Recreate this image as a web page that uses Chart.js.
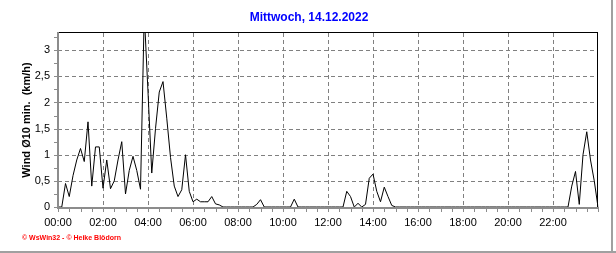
<!DOCTYPE html>
<html lang="de">
<head>
<meta charset="UTF-8">
<title>Wind Ø10 min.</title>
<script src="https://cdn.jsdelivr.net/npm/chart.js"></script>
<style>
  body { margin: 0; background: #fff; }
  #wrap { width: 616px; height: 253px; }
</style>
</head>
<body>
<div id="wrap"><canvas id="windChart" width="616" height="253"></canvas></div>
<script>
var titleText = 'Mittwoch, 14.12.2022';
var axisTitle = 'Wind Ø10 min.  (km/h)';
var creditText = '© WsWin32 - © Heike Blödorn';

// one value every 10 minutes, 00:00 .. 24:00
var windValues = [
  0, 0, 0.45, 0.2, 0.6, 0.9,            // 00
  1.12, 0.87, 1.63, 0.4, 1.15, 1.15,    // 01
  0.36, 0.9, 0.35, 0.5, 0.9, 1.25,      // 02
  0.25, 0.7, 0.97, 0.7, 0.34, 3.7,      // 03
  2.2, 0.65, 1.5, 2.2, 2.4, 1.7,        // 04
  0.95, 0.4, 0.2, 0.33, 1.0, 0.3,       // 05
  0.1, 0.15, 0.1, 0.1, 0.1, 0.2,        // 06
  0.06, 0.04, 0, 0, 0, 0,               // 07
  0, 0, 0, 0, 0, 0.05,                  // 08
  0.14, 0, 0, 0, 0, 0,                  // 09
  0, 0, 0, 0.15, 0, 0,                  // 10
  0, 0, 0, 0, 0, 0,                     // 11
  0, 0, 0, 0, 0, 0.3,                   // 12
  0.2, 0, 0.07, 0, 0.05, 0.55,          // 13
  0.63, 0.3, 0.1, 0.38, 0.2, 0.03,      // 14
  0, 0, 0, 0, 0, 0,                     // 15
  0, 0, 0, 0, 0, 0,                     // 16
  0, 0, 0, 0, 0, 0,                     // 17
  0, 0, 0, 0, 0, 0,                     // 18
  0, 0, 0, 0, 0, 0,                     // 19
  0, 0, 0, 0, 0, 0,                     // 20
  0, 0, 0, 0, 0, 0,                     // 21
  0, 0, 0, 0, 0, 0.4,                   // 22
  0.68, 0.05, 1.0, 1.44, 0.9, 0.5,      // 23
  0                                     // 24
];

var timeLabels = [];
for (var h = 0; h <= 24; h++) {
  for (var m = 0; m < 60; m += 10) {
    if (h === 24 && m > 0) break;
    timeLabels.push((h < 10 ? '0' : '') + h + ':' + (m < 10 ? '0' : '') + m);
  }
}

var yMax = 3.33;
var yGrid = [0.5, 1, 1.5, 2, 2.5, 3];
var labelEvery = 12;   // 2 hours
var minorEvery = 3;    // 30 minutes

Chart.defaults.font.family = "'Liberation Sans', Arial, sans-serif";
Chart.defaults.font.size = 11;
Chart.defaults.color = '#000';

var framePlugin = {
  id: 'framePlugin',
  beforeDatasetsDraw: function (chart) {
    var ctx = chart.ctx, a = chart.chartArea, x = chart.scales.x, y = chart.scales.y;
    ctx.save();
    ctx.strokeStyle = '#808080';
    ctx.lineWidth = 1;
    ctx.setLineDash([4, 3]);
    ctx.beginPath();
    for (var i = labelEvery; i < timeLabels.length - 1; i += labelEvery) {
      var px = Math.round(x.getPixelForValue(i)) + 0.5;
      ctx.moveTo(px, a.top);
      ctx.lineTo(px, a.bottom);
    }
    yGrid.forEach(function (v) {
      var py = Math.round(y.getPixelForValue(v)) + 0.5;
      ctx.moveTo(a.left, py);
      ctx.lineTo(a.right, py);
    });
    ctx.stroke();
    ctx.restore();
  },
  afterDatasetsDraw: function (chart) {
    var ctx = chart.ctx, a = chart.chartArea, x = chart.scales.x, y = chart.scales.y;
    ctx.save();
    // black top and right border
    ctx.fillStyle = '#000';
    ctx.fillRect(a.left, a.top - 1, a.right - a.left, 1);
    ctx.fillRect(a.right - 1, a.top - 1, 1, a.bottom - a.top + 1);
    // grey axes
    ctx.fillStyle = '#8c8c8c';
    ctx.fillRect(a.left - 1, a.top - 1, 2, a.bottom - a.top + 3);
    ctx.fillRect(a.left - 1, a.bottom, a.right - a.left + 1, 2);
    // minor ticks
    for (var i = 0; i < timeLabels.length; i += minorEvery) {
      var px = Math.round(x.getPixelForValue(i));
      ctx.fillRect(px, a.bottom, 1, 5);
    }
    for (var v = 0; v <= yMax; v += 0.25) {
      var py = Math.round(y.getPixelForValue(v));
      ctx.fillRect(a.left - 4, py, 4, 1);
    }
    ctx.restore();
  },
  afterDraw: function (chart) {
    var ctx = chart.ctx, a = chart.chartArea;
    ctx.save();
    ctx.fillStyle = '#0000ff';
    ctx.font = "bold 12px 'Liberation Sans Narrow', 'Liberation Sans', Arial, sans-serif";
    ctx.textAlign = 'center';
    ctx.textBaseline = 'middle';
    ctx.fillText(titleText, 309, 18);

    ctx.fillStyle = '#000';
    ctx.font = "bold 11px 'Liberation Sans', Arial, sans-serif";
    ctx.translate(27, (a.top + a.bottom) / 2);
    ctx.rotate(-Math.PI / 2);
    ctx.fillText(axisTitle, 0, 0);
    ctx.setTransform(1, 0, 0, 1, 0, 0);

    ctx.fillStyle = '#ff0000';
    ctx.font = "bold 7px 'Liberation Sans', Arial, sans-serif";
    ctx.textAlign = 'left';
    ctx.fillText(creditText, 22, 238);

    // window frame
    ctx.fillStyle = '#a0a0a0';
    ctx.fillRect(611, 0, 2, 253);
    ctx.fillRect(0, 251, 616, 2);
    ctx.restore();
  }
};

var ctx = document.getElementById('windChart').getContext('2d');
var windChart = new Chart(ctx, {
  type: 'line',
  data: {
    labels: timeLabels,
    datasets: [{
      data: windValues,
      borderColor: '#000',
      borderWidth: 1,
      pointRadius: 0,
      tension: 0,
      fill: false
    }]
  },
  options: {
    responsive: false,
    animation: false,
    layout: { padding: { top: 33, right: 18, left: 0, bottom: 0 } },
    plugins: { legend: { display: false }, tooltip: { enabled: false } },
    scales: {
      x: {
        type: 'category',
        offset: false,
        grid: { display: false, drawTicks: false },
        border: { display: false },
        ticks: {
          autoSkip: false,
          maxRotation: 0,
          padding: 9,
          callback: function (value, index) {
            return (index % labelEvery === 0 && index < timeLabels.length - 1) ? timeLabels[index] : '';
          }
        },
        afterFit: function (s) { s.height = 46; }
      },
      y: {
        min: 0,
        max: yMax,
        grid: { display: false, drawTicks: false },
        border: { display: false },
        ticks: {
          stepSize: 0.5,
          includeBounds: false,
          padding: 8,
          callback: function (v) { return String(v).replace('.', ','); }
        },
        afterFit: function (s) { s.width = 58; }
      }
    }
  },
  plugins: [framePlugin]
});
</script>
</body>
</html>
